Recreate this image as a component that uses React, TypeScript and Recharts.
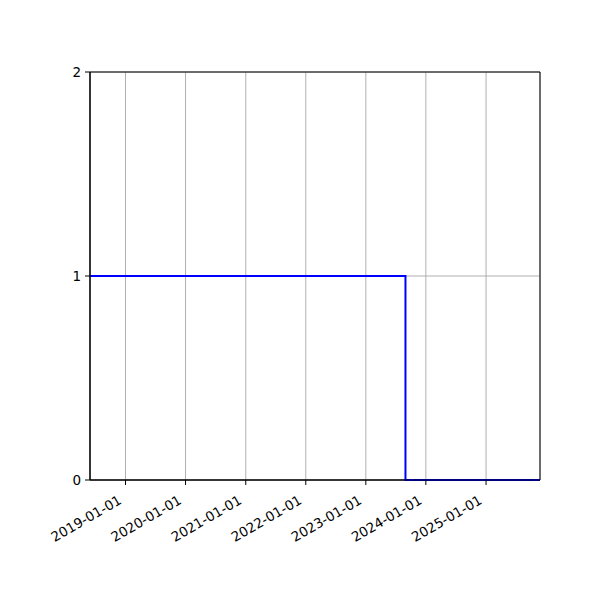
import { LineChart, Line, XAxis, YAxis, CartesianGrid, ReferenceArea } from "recharts";

// step series: value holds until the next date
const stepDates = ["2018-05-30", "2023-08-30", "2025-11-25"];
const stepValues = [1, 0, 0];

const yearTicks = [
  "2019-01-01",
  "2020-01-01",
  "2021-01-01",
  "2022-01-01",
  "2023-01-01",
  "2024-01-01",
  "2025-01-01",
];
const yTicks = [0, 1, 2];

const toTs = (d: string) => Date.parse(d + "T00:00:00Z");

const data = stepDates.map((d, i) => ({ t: toTs(d), v: stepValues[i] }));
const xTicks = yearTicks.map(toTs);
const xDomain = [toTs(stepDates[0]), toTs(stepDates[stepDates.length - 1])];

const fmtDate = (ts: number) => new Date(ts).toISOString().slice(0, 10);

const FONT = "DejaVu Sans, sans-serif";

function RotatedTick(props: any) {
  const { x, y, payload } = props;
  return (
    <g transform={`translate(${x - 3},${y + 16}) rotate(-30)`}>
      <text x={0} y={0} textAnchor="end" fill="#000" fontSize={13.5} fontFamily={FONT}>
        {fmtDate(payload.value)}
      </text>
    </g>
  );
}

export default function App() {
  return (
    <div style={{ position: "absolute", left: 0, top: 0, width: 600, height: 600, background: "#fff" }}>
      <LineChart width={600} height={600} data={data} margin={{ top: 72, right: 60, bottom: 0, left: 0 }}>
        <CartesianGrid stroke="#b0b0b0" strokeWidth={1} />
        <XAxis
          dataKey="t"
          type="number"
          scale="time"
          domain={xDomain}
          ticks={xTicks}
          interval={0}
          tick={<RotatedTick />}
          height={120}
          stroke="#000"
          tickSize={5}
          tickMargin={2}
          tickLine={{ stroke: "#000" }}
          allowDataOverflow
        />
        <YAxis
          type="number"
          domain={[0, 2]}
          ticks={yTicks}
          interval={0}
          width={90}
          stroke="#000"
          tickSize={5}
          tickMargin={4}
          tick={{ fill: "#000", fontSize: 13.5, fontFamily: FONT }}
          tickLine={{ stroke: "#000" }}
        />
        <ReferenceArea
          x1={xDomain[0]}
          x2={xDomain[1]}
          y1={0}
          y2={2}
          fill="none"
          stroke="#000"
          strokeWidth={1}
        />
        <Line
          dataKey="v"
          type="stepAfter"
          stroke="#0000ff"
          strokeWidth={2}
          dot={false}
          isAnimationActive={false}
        />
      </LineChart>
    </div>
  );
}
